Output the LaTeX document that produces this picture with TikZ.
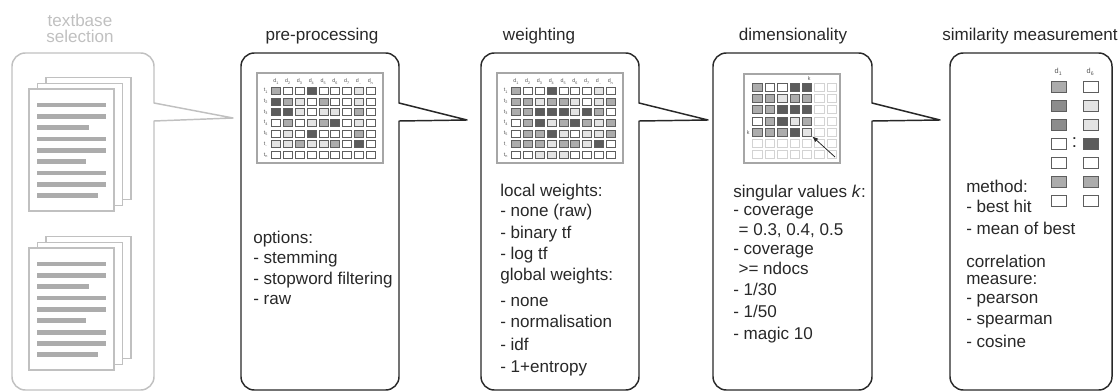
\documentclass[tikz,border=0pt]{standalone}
\usepackage{fontspec}
\setmainfont{Liberation Sans}
\usetikzlibrary{arrows.meta}

\definecolor{ink}{RGB}{40,40,40}
\definecolor{pale}{RGB}{192,192,192}
\definecolor{sh0}{RGB}{255,255,255}
\definecolor{sh1}{RGB}{228,228,228}
\definecolor{sh2}{RGB}{172,172,172}
\definecolor{sh3}{RGB}{140,140,140}
\definecolor{sh4}{RGB}{92,92,92}

\tikzset{
	panel/.style={line width=1.1pt,line join=round},
	cell/.style={draw=ink!75,line width=.55pt},
	faint/.style={draw=pale!70,line width=.55pt},
	frame/.style={draw=gray!70,line width=.9pt},
	bar/.style={draw=sh2,line width=3.6pt},
	lbl/.style={font=\fontsize{12.8}{15}\selectfont,text=ink,anchor=base west,inner sep=0},
	ttl/.style={font=\fontsize{12.8}{15}\selectfont,text=ink,anchor=base,inner sep=0},
	idx/.style={font=\fontsize{4}{4}\selectfont,text=ink!80,inner sep=0},
}

% panel with speech pointer: colour, left, right, tip x, tip y
\newcommand{\callout}[5]{%
	\draw[panel,draw=#1] (#2,220) [rounded corners=10] -- (#2,53) -- (#3,53) [sharp corners] -- (#3,103)
		-- (#4,#5) -- (#3,121) [rounded corners=10] -- (#3,390) -- (#2,390) [sharp corners] -- cycle;}

% term-document grid: x0, y0, x step, y step, width, height, rows
\newcommand{\termgrid}[7]{%
	\foreach \row [count=\r] in {#7}{
		\foreach \s [count=\c] in \row{
			\draw[cell,fill=sh\s] ({#1+(\c-1)*#3},{#2+(\r-1)*#4}) rectangle +(#5,#6);
		}
	}}

\begin{document}
\begin{tikzpicture}[x=.75pt,y=-.75pt]
	\useasboundingbox (0,0) rectangle (1120,392);

	% textbase selection
	\node[ttl,text=pale] (tsel1) at (80,27) {textbase};
	\node[ttl,text=pale] (tsel2) at (80,42.5) {selection};
	\callout{pale}{12}{154}{233}{118}
	\foreach \dy in {0,159}{
		\foreach \dx in {17,8.5,0}
			\draw[pale,fill=white,line width=.8pt] ({29+\dx},{89+\dy-.7*\dx}) rectangle +(85,122);
		\foreach \l/\len in {0/69,1/69,2/52,3/69,4/69,5/49,6/69,7/69,8/61}
			\draw[bar] (37,{105+\l*11.35+\dy}) -- +(\len,0);
	}

	% pre-processing
	\node[ttl] (tpre) at (322,41) {pre-processing};
	\callout{ink}{241}{399}{467}{120}
	\draw[frame] (257,73) rectangle (383,163);
	\termgrid{271.7}{87.3}{11.8}{10.7}{9}{7}{{2,0,0,4,0,0,0,1,0},{4,2,1,0,2,0,0,1,0},{4,4,1,0,1,1,0,2,0},{0,2,0,1,2,4,0,1,0},{0,1,0,4,0,0,0,2,0},{1,1,2,1,1,2,0,4,0},{0,0,0,0,0,0,0,0,0}}
	\foreach \t [count=\i] in {1,2,3,4,5,6,7,..,n}
		\node[idx] (pd\i) at ({276.2+(\i-1)*11.8},81.5) {\ifx\t..\relax..\else d\textsubscript{\t}\fi};
	\foreach \t [count=\i] in {1,2,3,4,5,..,n}
		\node[idx] (pt\i) at (266,{90.8+(\i-1)*10.7}) {\ifx\t..\relax..\else t\textsubscript{\t}\fi};
	\foreach \yy/\tx [count=\i] in {243/options:,263.5/- stemming,284/- stopword filtering,304.5/- raw}
		\node[lbl] (pre\i) at (253,\yy) {\tx};

	% weighting
	\node[ttl] (twgt) at (539,41) {weighting};
	\callout{ink}{481}{639}{708}{120}
	\draw[frame] (497,73) rectangle (623,163);
	\termgrid{511.7}{87.3}{11.8}{10.7}{9}{7}{{2,0,0,4,0,0,0,1,0},{2,2,1,2,2,1,0,1,2},{2,2,4,4,4,1,4,2,0},{0,2,4,1,2,4,2,1,2},{0,2,2,4,1,0,1,1,2},{2,2,2,1,2,2,1,4,0},{0,0,1,1,1,0,0,0,0}}
	\foreach \t [count=\i] in {1,2,3,4,5,6,7,..,n}
		\node[idx] (wd\i) at ({516.2+(\i-1)*11.8},81.5) {\ifx\t..\relax..\else d\textsubscript{\t}\fi};
	\foreach \t [count=\i] in {1,2,3,4,5,..,n}
		\node[idx] (wt\i) at (506,{90.8+(\i-1)*10.7}) {\ifx\t..\relax..\else t\textsubscript{\t}\fi};
	\foreach \yy/\tx [count=\i] in {196/local weights:,216.5/- none (raw),238/- binary tf,259/- log tf,280/global weights:,306/- none,327.5/- normalisation,350/- idf,372.5/- 1+entropy}
		\node[lbl] (wgt\i) at (500,\yy) {\tx};

	% dimensionality
	\node[ttl] (tdim) at (793,41) {dimensionality};
	\callout{ink}{713}{872}{940}{120}
	\draw[frame] (744,74) rectangle (840,163);
	\foreach \r in {1,...,7}
		\foreach \c in {1,...,7}
			\draw[faint,fill=white] ({752.7+(\c-1)*12.4},{83.3+(\r-1)*11.2}) rectangle +(9.5,8);
	\termgrid{752.7}{83.3}{12.4}{11.2}{9.5}{8}{{2,0,0,4,4},{2,2,1,2,2},{2,2,4,4,4},{0,2,4,1,2},{2,2,2,4,1}}
	\node[idx] (ktop) at (809.3,79) {k};
	\node[idx] (kleft) at (748.3,132.3) {k};
	\coordinate (kcell) at (812.2,136.3);
	\coordinate (ktail) at (835,157);
	\draw[ink,line width=.6pt,-{Latex[length=4.5pt,width=3.5pt]}] (ktail) -- (kcell);
	\foreach \yy/\tx [count=\i] in {197/singular values \textit{k}:,215.7/- coverage,254/- coverage,295.5/{- 1/30},317.3/{- 1/50},339/- magic 10}
		\node[lbl] (dim\i) at (733,\yy) {\tx};
	\node[lbl] (dimA) at (738.3,235.5) {= 0.3, 0.4, 0.5};
	\node[lbl] (dimB) at (738.3,274) {>= ndocs};

	% similarity measurement
	\node[ttl] (tsim) at (1030,41) {similarity measurement};
	\draw[panel,draw=ink,rounded corners=10] (950,53) rectangle (1112,390);
	\node[idx,font=\fontsize{5.5}{6}\selectfont] (sd1) at (1058.5,72) {d\textsubscript{1}};
	\node[idx,font=\fontsize{5.5}{6}\selectfont] (sd6) at (1090.5,72) {d\textsubscript{6}};
	\termgrid{1051}{81.7}{32}{19}{15}{11}{{2,0},{3,1},{3,1},{0,4},{0,0},{2,2},{0,0}}
	\node[text=ink,font=\fontsize{14}{14}\selectfont,inner sep=0] (scol) at (1074.5,142.5) {:};
	\foreach \yy/\tx [count=\i] in {192/method:,212/- best hit,234/- mean of best,267.3/correlation,284/measure:,303/- pearson,324.5/- spearman,347/- cosine}
		\node[lbl] (sim\i) at (966,\yy) {\tx};
\end{tikzpicture}
\end{document}
